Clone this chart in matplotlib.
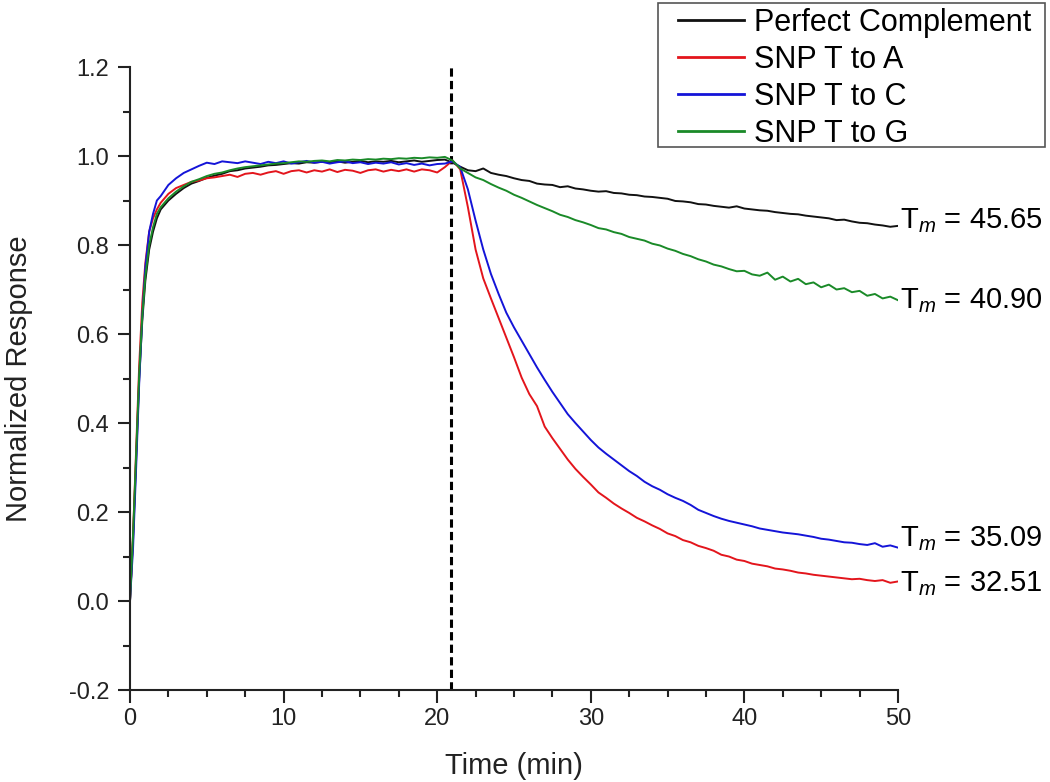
import numpy as np
import matplotlib
matplotlib.use("Agg")
import matplotlib.pyplot as plt
from matplotlib.patches import Rectangle
from matplotlib.ticker import MultipleLocator, FormatStrFormatter

plt.rcParams['font.family'] = ['Liberation Sans', 'DejaVu Sans']
plt.rcParams['mathtext.fontset'] = 'custom'
plt.rcParams['mathtext.rm'] = 'Liberation Sans'
plt.rcParams['mathtext.it'] = 'Liberation Sans:italic'
plt.rcParams['axes.unicode_minus'] = False

# ---- data ----
t_rise = [0, 0.2, 0.4, 0.6, 0.8, 1.0, 1.25, 1.5, 1.75]
t_main = np.arange(2.0, 50.01, 0.5)
time = np.concatenate([t_rise, t_main])

perfect = [0, 0.14, 0.32, 0.50, 0.63, 0.72, 0.79, 0.83, 0.86,
           0.88, 0.90, 0.915, 0.928, 0.938, 0.944, 0.951, 0.956, 0.960, 0.966,
           0.968, 0.972, 0.974, 0.976, 0.979, 0.980, 0.982, 0.984, 0.983, 0.986,
           0.985, 0.987, 0.986, 0.988, 0.985, 0.987, 0.989, 0.986, 0.988, 0.987,
           0.989, 0.986, 0.988, 0.990, 0.987, 0.989, 0.991, 0.992, 0.985, 0.976,
           0.968, 0.966, 0.972, 0.962, 0.958, 0.955, 0.950, 0.946, 0.944, 0.938,
           0.936, 0.935, 0.930, 0.932, 0.927, 0.925, 0.922, 0.920, 0.921, 0.917,
           0.916, 0.913, 0.912, 0.909, 0.908, 0.906, 0.904, 0.899, 0.898, 0.896,
           0.892, 0.891, 0.888, 0.886, 0.884, 0.887, 0.882, 0.880, 0.878, 0.877,
           0.874, 0.872, 0.870, 0.869, 0.866, 0.864, 0.862, 0.860, 0.856, 0.857,
           0.853, 0.850, 0.849, 0.846, 0.844, 0.841, 0.843]

snp_a = [0, 0.15, 0.34, 0.53, 0.67, 0.76, 0.83, 0.86, 0.88,
         0.895, 0.915, 0.928, 0.935, 0.942, 0.945, 0.950, 0.952, 0.955, 0.958,
         0.953, 0.960, 0.962, 0.958, 0.963, 0.966, 0.960, 0.966, 0.968, 0.963,
         0.968, 0.965, 0.970, 0.964, 0.969, 0.967, 0.962, 0.968, 0.970, 0.965,
         0.969, 0.966, 0.970, 0.965, 0.970, 0.968, 0.963, 0.975, 0.990, 0.970,
         0.885, 0.790, 0.725, 0.680, 0.636, 0.592, 0.548, 0.502, 0.465, 0.438,
         0.392, 0.366, 0.342, 0.318, 0.297, 0.279, 0.262, 0.244, 0.232, 0.219,
         0.208, 0.198, 0.187, 0.179, 0.170, 0.162, 0.152, 0.146, 0.137, 0.132,
         0.124, 0.119, 0.113, 0.104, 0.100, 0.093, 0.090, 0.084, 0.081, 0.078,
         0.073, 0.071, 0.068, 0.064, 0.062, 0.059, 0.057, 0.055, 0.053, 0.051,
         0.049, 0.050, 0.047, 0.045, 0.047, 0.041, 0.044]

snp_c = [0, 0.12, 0.30, 0.49, 0.64, 0.75, 0.83, 0.87, 0.90,
         0.910, 0.935, 0.950, 0.962, 0.970, 0.978, 0.985, 0.982, 0.988, 0.986,
         0.984, 0.988, 0.985, 0.982, 0.987, 0.984, 0.988, 0.983, 0.986, 0.989,
         0.985, 0.987, 0.983, 0.986, 0.988, 0.984, 0.986, 0.982, 0.985, 0.983,
         0.986, 0.981, 0.984, 0.980, 0.983, 0.979, 0.982, 0.983, 0.988, 0.975,
         0.925, 0.855, 0.790, 0.735, 0.690, 0.648, 0.615, 0.585, 0.555, 0.525,
         0.497, 0.470, 0.445, 0.420, 0.400, 0.381, 0.362, 0.345, 0.331, 0.318,
         0.305, 0.292, 0.281, 0.268, 0.258, 0.250, 0.240, 0.232, 0.225, 0.216,
         0.205, 0.198, 0.191, 0.185, 0.180, 0.176, 0.172, 0.168, 0.163, 0.160,
         0.157, 0.154, 0.152, 0.150, 0.147, 0.144, 0.140, 0.138, 0.135, 0.132,
         0.131, 0.128, 0.126, 0.130, 0.122, 0.125, 0.120]

snp_g = [0, 0.15, 0.33, 0.51, 0.64, 0.73, 0.80, 0.84, 0.87,
         0.885, 0.905, 0.920, 0.932, 0.942, 0.948, 0.955, 0.960, 0.963, 0.968,
         0.972, 0.975, 0.977, 0.979, 0.981, 0.983, 0.984, 0.986, 0.988, 0.987,
         0.989, 0.990, 0.988, 0.991, 0.990, 0.992, 0.991, 0.993, 0.992, 0.994,
         0.993, 0.995, 0.994, 0.996, 0.995, 0.997, 0.996, 0.998, 0.990, 0.972,
         0.962, 0.952, 0.946, 0.937, 0.929, 0.922, 0.913, 0.906, 0.898, 0.890,
         0.883, 0.876, 0.868, 0.863, 0.856, 0.851, 0.845, 0.838, 0.835, 0.829,
         0.825, 0.818, 0.814, 0.810, 0.803, 0.799, 0.792, 0.787, 0.780, 0.775,
         0.768, 0.763, 0.756, 0.752, 0.746, 0.741, 0.742, 0.734, 0.731, 0.738,
         0.722, 0.729, 0.718, 0.724, 0.712, 0.716, 0.705, 0.711, 0.700, 0.703,
         0.694, 0.697, 0.686, 0.690, 0.680, 0.684, 0.676]

series_labels = ['Perfect Complement', 'SNP T to A', 'SNP T to C', 'SNP T to G']
series_colors = ['#111111', '#e3151c', '#1414d8', '#1a8a28']
tm_values = ['45.65', '32.51', '35.09', '40.90']
tm_label_y = [0.855, 0.04, 0.14, 0.675]
switch_time = 20.9

# ---- figure ----
fig = plt.figure(figsize=(10.5, 7.82), dpi=100)
ax = fig.add_axes([0.1238, 0.1176, 0.7314, 0.7967])

for vals, lab, col in zip([perfect, snp_a, snp_c, snp_g], series_labels, series_colors):
    ax.plot(time, vals, color=col, lw=1.4, label=lab)

ax.axvline(switch_time, ymax=1.003, color='black', lw=2.2, ls=(0, (2.7, 1.4)), zorder=1,
           clip_on=False)

for val, ty in zip(tm_values, tm_label_y):
    ax.text(50.15, ty, r'T$_{\mathit{m}}$ = ' + val, fontsize=21, va='center', ha='left',
            clip_on=False)

ax.set_xlim(0, 50)
ax.set_ylim(-0.2, 1.2)
ax.xaxis.set_major_locator(MultipleLocator(10))
ax.xaxis.set_minor_locator(MultipleLocator(2.5))
ax.yaxis.set_major_locator(MultipleLocator(0.2))
ax.yaxis.set_minor_locator(MultipleLocator(0.1))
ax.yaxis.set_major_formatter(FormatStrFormatter('%.1f'))

for s in ['top', 'right']:
    ax.spines[s].set_visible(False)
for s in ['left', 'bottom']:
    ax.spines[s].set_linewidth(1.5)
    ax.spines[s].set_color('#222222')

ax.tick_params(which='major', direction='out', length=9, width=1.5, labelsize=17,
               color='#222222', labelcolor='#222222')
ax.tick_params(which='minor', direction='out', length=5, width=1.5, color='#222222')
ax.tick_params(axis='y', which='major', pad=6)
ax.tick_params(axis='x', which='major', pad=4)

ax.set_xlabel('Time (min)', fontsize=21, color='#222222', labelpad=16)
ax.set_ylabel('Normalized Response', fontsize=21, color='#222222', labelpad=26)

leg = ax.legend(loc='upper left', bbox_to_anchor=(0.7135, 1.0955), bbox_transform=ax.transAxes,
                fontsize=22, frameon=False, handlelength=2.15,
                handletextpad=0.33, labelspacing=0.23, borderpad=0.0, borderaxespad=0)
for line in leg.get_lines():
    line.set_linewidth(2.0)

# legend frame box
fig.patches.append(Rectangle((0.6267, 0.812), 0.3686, 0.1841, transform=fig.transFigure,
                             fill=False, edgecolor='#555555', linewidth=1.2))

fig.savefig('out.png', dpi=100)
